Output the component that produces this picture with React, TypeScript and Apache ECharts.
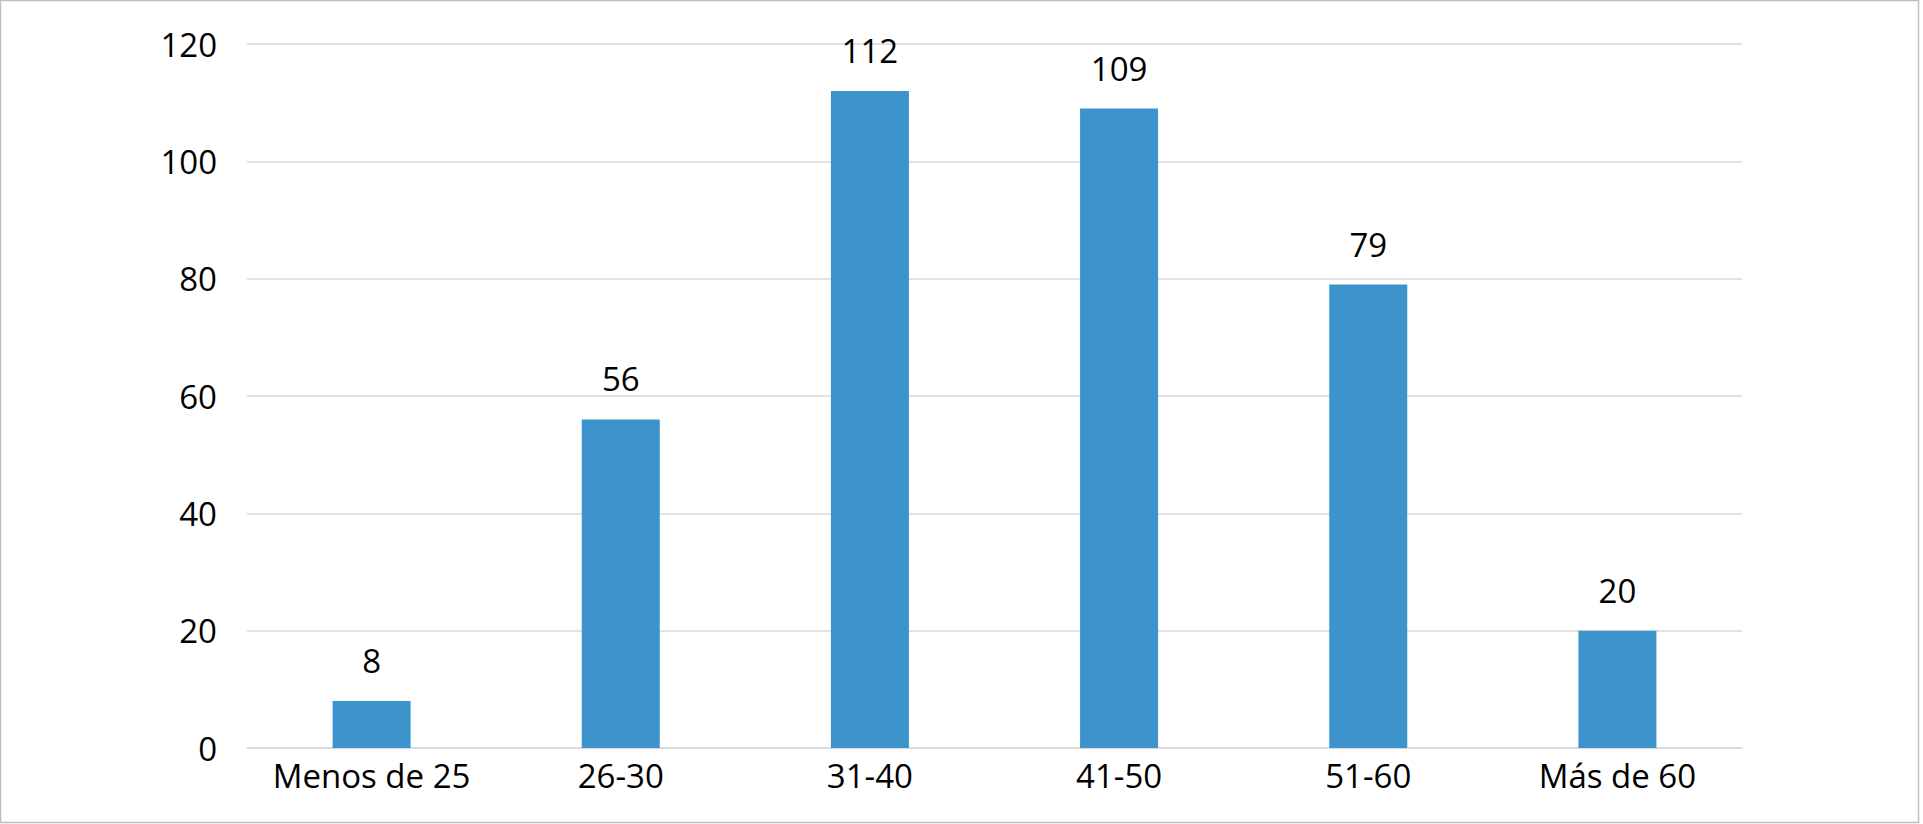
import React, { useEffect, useRef } from "react";
import * as echarts from "echarts";

const categories = ["Menos de 25", "26-30", "31-40", "41-50", "51-60", "Más de 60"];
const values = [8, 56, 112, 109, 79, 20];
const yTicks = [0, 20, 40, 60, 80, 100, 120];

export default function App() {
  const ref = useRef<HTMLDivElement>(null);
  useEffect(() => {
    document.body.style.margin = "0";
    const chart = echarts.init(ref.current!, null, { renderer: "svg" });
    const font = "'Open Sans', sans-serif";
    chart.setOption({
      animation: false,
      backgroundColor: "#ffffff",
      graphic: [
        {
          type: "rect",
          shape: { x: 0.5, y: 0.5, width: 1918, height: 822 },
          style: { fill: "none", stroke: "#bfbfbf", lineWidth: 1.5 },
          silent: true,
        },
      ],
      grid: { left: 247, right: 181, top: 44, bottom: 76, containLabel: false },
      xAxis: {
        type: "category",
        data: categories,
        axisTick: { show: false },
        axisLine: { show: true, lineStyle: { color: "#d9d9d9", width: 1.5 } },
        axisLabel: { color: "#000", fontSize: 33, fontFamily: font, margin: 11, interval: 0 },
      },
      yAxis: {
        type: "value",
        min: yTicks[0],
        max: yTicks[yTicks.length - 1],
        interval: 20,
        axisLine: { show: false },
        axisTick: { show: false },
        splitLine: { lineStyle: { color: "#d9d9d9", width: 1.5 } },
        axisLabel: { color: "#000", fontSize: 33, fontFamily: font, margin: 30 },
      },
      series: [
        {
          type: "bar",
          data: values,
          barWidth: 78,
          itemStyle: { color: "#3d93cb" },
          label: {
            show: true,
            position: "top",
            distance: 24,
            color: "#000",
            fontSize: 33,
            fontFamily: font,
          },
        },
      ],
    });
    return () => chart.dispose();
  }, []);
  return <div ref={ref} style={{ width: 1923, height: 824, position: "absolute", left: 0, top: 0 }} />;
}
